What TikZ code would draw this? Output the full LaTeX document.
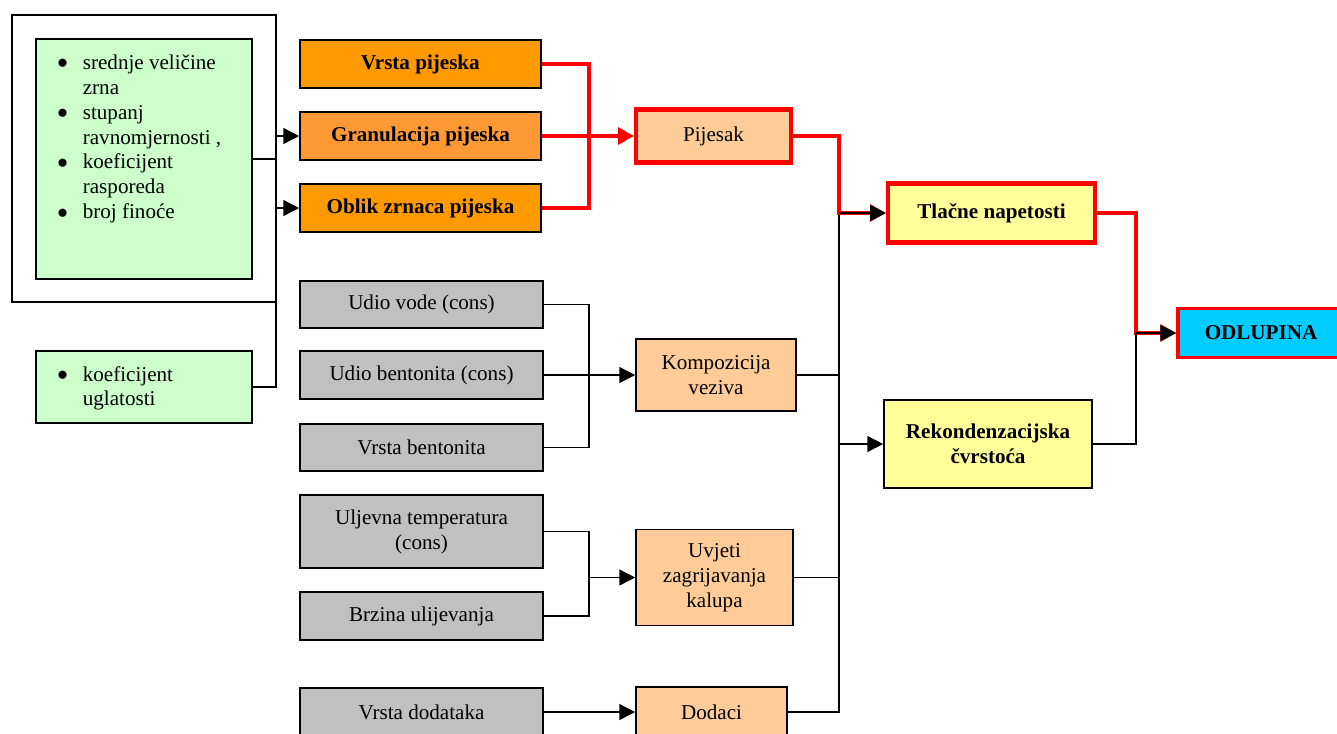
\documentclass[tikz,border=0pt]{standalone}
\usepackage{fontspec}
\setmainfont{Liberation Serif}
\usetikzlibrary{arrows.meta}

\newcommand\unitpx{0.5687pt}
\newcommand\tocka{\raisebox{0.5pt}{$\bullet$}}
\definecolor{zelena}{HTML}{CCFFCC}
\definecolor{narancasta}{HTML}{FF9900}
\definecolor{narancastasv}{HTML}{FF9933}
\definecolor{siva}{HTML}{C0C0C0}
\definecolor{breskva}{HTML}{FFCC99}
\definecolor{zuta}{HTML}{FFFF99}
\definecolor{plava}{HTML}{00CCFF}
\definecolor{crvena}{HTML}{FF0000}

\tikzset{
	sz/.style 2 args={minimum width=#1*\unitpx, minimum height=#2*\unitpx},
	tekst/.style={font=\fontsize{12}{14.2}\selectfont},
	kutija/.style={tekst, draw=black, line width=0.9pt, inner sep=0pt, align=center},
	zelenibox/.style={kutija, fill=zelena},
	pijesakbox/.style={kutija, fill=narancasta, font=\fontsize{12}{14.2}\selectfont\bfseries},
	sivibox/.style={kutija, fill=siva},
	grupabox/.style={kutija, fill=breskva},
	ciljbox/.style={kutija, fill=zuta, font=\fontsize{12}{14.2}\selectfont\bfseries},
	veza/.style={line width=0.85pt},
	strelica/.style={veza, -{Triangle[length=9pt, width=9pt]}},
	crvenaveza/.style={draw=crvena, line width=1.9pt},
	crvenastrelica/.style={crvenaveza, -{Triangle[length=9pt, width=9.5pt]}}
}

\begin{document}
\begin{tikzpicture}[x=\unitpx, y=-\unitpx]
				\useasboundingbox (0,0) rectangle (1337,733);
				
				\coordinate (cL) at (276,136);
				\coordinate (cR) at (589,136);
				\coordinate (cK) at (589,375);
				\coordinate (cU) at (589,577.5);
				\coordinate (cS) at (839,213);
				\coordinate (cO) at (1136,333);
				
				\draw[veza] (12,15) rectangle (276,302);
				\node[zelenibox, sz={216}{240}] (svojstva) at (144,159) {};
				\node[tekst, anchor=west, inner sep=0pt] (popis) at (57,139) {\begin{tabular}{@{}l@{\hspace{8.5pt}}l@{}}
					\tocka & srednje veličine\\
					 & zrna\\
					\tocka & stupanj\\
					 & ravnomjernosti ,\\
					\tocka & koeficijent\\
					 & rasporeda\\
					\tocka & broj finoće
				\end{tabular}};
				\node[zelenibox, sz={216}{72}] (uglatost) at (144,387) {};
				\node[tekst, anchor=west, inner sep=0pt] (popis2) at (57,388.5) {\begin{tabular}{@{}l@{\hspace{8.5pt}}l@{}}
					\tocka & koeficijent\\
					 & uglatosti
				\end{tabular}};
				
				\node[pijesakbox, sz={241}{48}] (vrsta) at (420.5,64) {Vrsta pijeska};
				\node[pijesakbox, sz={241}{48}, fill=narancastasv] (granulacija) at (420.5,136) {Granulacija pijeska};
				\node[pijesakbox, sz={241}{48}] (oblik) at (420.5,208) {Oblik zrnaca pijeska};
				
				\node[sivibox, sz={243}{47}] (vode) at (421.5,304.5) {Udio vode (cons)};
				\node[sivibox, sz={243}{48}] (bentonit) at (421.5,375) {Udio bentonita (cons)};
				\node[sivibox, sz={243}{47}] (vrstabent) at (421.5,447.5) {Vrsta bentonita};
				\node[sivibox, sz={243}{73}] (uljevna) at (421.5,531.5) {Uljevna temperatura\\(cons)};
				\node[sivibox, sz={243}{48}] (brzina) at (421.5,616) {Brzina ulijevanja};
				\node[sivibox, sz={243}{48}] (vrstadod) at (421.5,712) {Vrsta dodataka};
				
				\node[grupabox, sz={155}{53}, draw=crvena, line width=2.3pt] (pijesak) at (713.5,136) {Pijesak};
				\node[grupabox, sz={160}{72}] (kompozicija) at (716,375) {Kompozicija\\veziva};
				\node[grupabox, sz={157}{96}] (uvjeti) at (714.5,577.5) {Uvjeti\\zagrijavanja\\kalupa};
				\node[grupabox, sz={151}{50}] (dodaci) at (711.5,712) {Dodaci};
				
				\node[ciljbox, sz={207}{59}, draw=crvena, line width=2.3pt] (tlacne) at (991.5,213) {Tlačne napetosti};
				\node[ciljbox, sz={208}{88}] (rekond) at (988,444) {Rekondenzacijska\\čvrstoća};
				\node[ciljbox, sz={166}{49}, fill=plava, draw=crvena, line width=2pt] (odlupina) at (1261,333) {ODLUPINA};
				
				\draw[veza] (svojstva.east) -- (svojstva.east -| cL);
				\draw[veza] (uglatost.east) -| (cL);
				\draw[strelica] (cL) -- (granulacija.west);
				\draw[strelica] (cL |- oblik.west) -- (oblik.west);
				
				\draw[crvenaveza] (vrsta.east) -| (cR);
				\draw[crvenaveza] (oblik.east) -| (cR);
				\draw[crvenastrelica] (granulacija.east) -- (pijesak.west);
				
				\draw[veza] (vode.east) -| (cK);
				\draw[veza] (vrstabent.east) -| (cK);
				\draw[veza] (bentonit.east) -- (cK);
				\draw[strelica] (cK) -- (kompozicija.west);
				
				\draw[veza] (uljevna.east) -| (cU);
				\draw[veza] (brzina.east) -| (cU);
				\draw[strelica] (cU) -- (uvjeti.west);
				
				\draw[strelica] (vrstadod.east) -- (dodaci.west);
				
				\draw[veza] (cS) |- (dodaci.east);
				\draw[veza] (kompozicija.east) -- (kompozicija.east -| cS);
				\draw[veza] (uvjeti.east) -- (uvjeti.east -| cS);
				\draw[strelica] (cS |- rekond.west) -- (rekond.west);
				
				\draw[crvenastrelica] (pijesak.east) -| (cS) -- (tlacne.west);
				\draw[strelica] (cS) -- (tlacne.west);
				
				\draw[crvenastrelica] (tlacne.east) -| (cO) -- (odlupina.west);
				\draw[veza] (rekond.east) -| (cO);
				\draw[strelica] (cO) -- (odlupina.west);
				\end{tikzpicture}
\end{document}
